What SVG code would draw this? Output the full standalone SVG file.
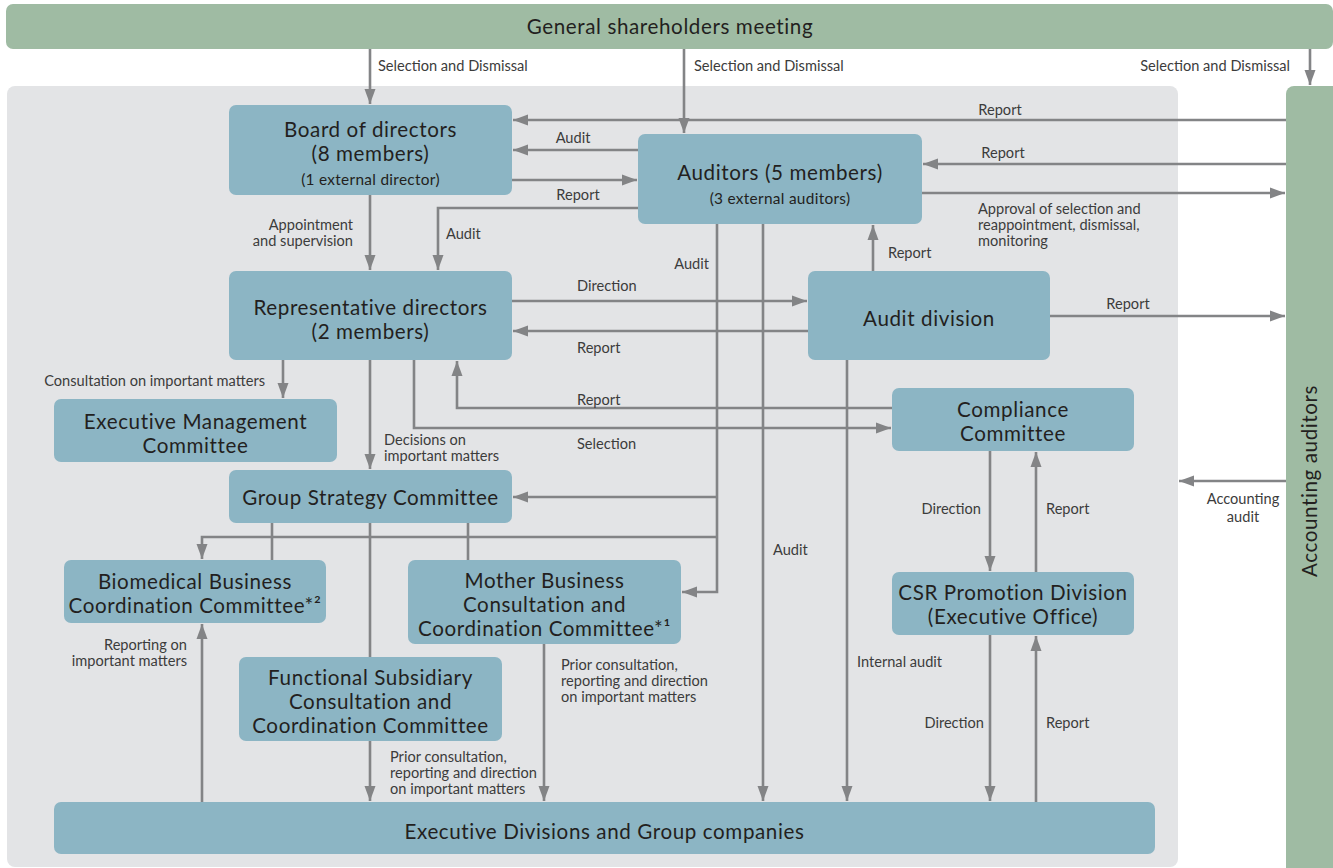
<svg xmlns="http://www.w3.org/2000/svg" width="1333" height="868" viewBox="0 0 1333 868">
<defs>
<marker id="ah" markerUnits="userSpaceOnUse" markerWidth="15" markerHeight="12" viewBox="0 0 15 12" refX="15" refY="6" orient="auto">
<path d="M0,0.5 L15,6 L0,11.5 z" fill="#838486"/>
</marker>
<style>
.node{fill:#8cb5c4}
.green{fill:#9fbba3}
.nt{font-family:Lato,"Noto Sans","Liberation Sans",sans-serif;font-size:20.6px;letter-spacing:0.6px;fill:#231f20;text-anchor:middle}
.ns{font-family:Lato,"Noto Sans","Liberation Sans",sans-serif;font-size:15.4px;letter-spacing:0.3px;fill:#231f20;text-anchor:middle}
.lb{font-family:Lato,"Noto Sans","Liberation Sans",sans-serif;font-size:14.6px;fill:#3c3c3c}
.e{text-anchor:end}
.m{text-anchor:middle}
.c{fill:none;stroke:#838486;stroke-width:2.6}
.a{marker-end:url(#ah)}
</style>
</defs>
<rect width="1333" height="868" fill="#ffffff"/>
<g id="panel"><rect x="7" y="86" width="1171" height="781" rx="8" fill="#e3e4e6"/></g>
<g id="shareholders"><rect class="green" x="6" y="4" width="1327" height="45" rx="7"/><text class="nt" x="670" y="34">General shareholders meeting</text></g>
<g id="accounting"><rect class="green" x="1286" y="86" width="60" height="800" rx="8"/><text class="nt" transform="translate(1317,481) rotate(-90)" x="0" y="0">Accounting auditors</text></g>
<g id="connectors">
<path class="c a" d="M370,49 V104"/>
<path class="c a" d="M684,49 V133"/>
<path class="c a" d="M1310,49 V85"/>
<path class="c a" d="M1286,120 H513"/>
<path class="c a" d="M1286,164 H923"/>
<path class="c a" d="M922,193 H1285"/>
<path class="c a" d="M638,150 H513"/>
<path class="c a" d="M512,180 H637"/>
<path class="c a" d="M638,208 H438 V270"/>
<path class="c a" d="M370,195 V270"/>
<path class="c a" d="M512,301 H807"/>
<path class="c a" d="M808,331 H513"/>
<path class="c a" d="M873,271 V225"/>
<path class="c a" d="M1050,316 H1285"/>
<path class="c a" d="M717,224 V592 H682"/>
<path class="c a" d="M717,497 H513"/>
<path class="c a" d="M717,537 H202 V559"/>
<path class="c" d="M272,523 V560"/>
<path class="c" d="M468,523 V560"/>
<path class="c a" d="M763,224 V801"/>
<path class="c a" d="M283,360 V398"/>
<path class="c a" d="M370,360 V469"/>
<path class="c a" d="M892,408 H457 V361"/>
<path class="c a" d="M414,360 V428 H891"/>
<path class="c a" d="M847,360 V801"/>
<path class="c a" d="M990,451 V571"/>
<path class="c a" d="M1036,572 V452"/>
<path class="c a" d="M990,635 V801"/>
<path class="c a" d="M1036,802 V636"/>
<path class="c a" d="M1286,481 H1179"/>
<path class="c" d="M370,523 V657"/>
<path class="c a" d="M202,802 V624"/>
<path class="c a" d="M370,741 V801"/>
<path class="c a" d="M544,644 V801"/>
</g>
<g id="labels">
<text class="lb" x="378" y="71">Selection and Dismissal</text>
<text class="lb" x="694" y="71">Selection and Dismissal</text>
<text class="lb e" x="1290" y="71">Selection and Dismissal</text>
<text class="lb m" x="1000" y="115">Report</text>
<text class="lb m" x="573" y="143">Audit</text>
<text class="lb m" x="1003" y="158">Report</text>
<text class="lb m" x="578" y="200">Report</text>
<text class="lb" x="978" y="214">Approval of selection and</text>
<text class="lb" x="978" y="230">reappointment, dismissal,</text>
<text class="lb" x="978" y="246">monitoring</text>
<text class="lb e" x="353" y="230">Appointment</text>
<text class="lb e" x="353" y="246">and supervision</text>
<text class="lb" x="446" y="239">Audit</text>
<text class="lb e" x="709" y="269">Audit</text>
<text class="lb" x="888" y="258">Report</text>
<text class="lb" x="577" y="291">Direction</text>
<text class="lb" x="577" y="353">Report</text>
<text class="lb m" x="1128" y="309">Report</text>
<text class="lb e" x="265" y="386">Consultation on important matters</text>
<text class="lb" x="577" y="405">Report</text>
<text class="lb" x="384" y="445">Decisions on</text>
<text class="lb" x="384" y="461">important matters</text>
<text class="lb" x="577" y="449">Selection</text>
<text class="lb e" x="981" y="514">Direction</text>
<text class="lb" x="1046" y="514">Report</text>
<text class="lb m" x="1243" y="504">Accounting</text>
<text class="lb m" x="1243" y="522">audit</text>
<text class="lb" x="773" y="555">Audit</text>
<text class="lb e" x="187" y="650">Reporting on</text>
<text class="lb e" x="187" y="666">important matters</text>
<text class="lb" x="561" y="670">Prior consultation,</text>
<text class="lb" x="561" y="686">reporting and direction</text>
<text class="lb" x="561" y="702">on important matters</text>
<text class="lb" x="857" y="667">Internal audit</text>
<text class="lb e" x="984" y="728">Direction</text>
<text class="lb" x="1046" y="728">Report</text>
<text class="lb" x="390" y="762">Prior consultation,</text>
<text class="lb" x="390" y="778">reporting and direction</text>
<text class="lb" x="390" y="794">on important matters</text>
</g>
<g id="board"><rect class="node" x="229" y="105" width="283" height="90" rx="7"/><text class="nt" x="370.5" y="137">Board of directors</text><text class="nt" x="370.5" y="161">(8 members)</text><text class="ns" x="370.5" y="185">(1 external director)</text></g>
<g id="auditors"><rect class="node" x="638" y="134" width="284" height="90" rx="7"/><text class="nt" x="780" y="180">Auditors (5 members)</text><text class="ns" x="780" y="204">(3 external auditors)</text></g>
<g id="representative"><rect class="node" x="229" y="271" width="283" height="89" rx="7"/><text class="nt" x="370.5" y="315">Representative directors</text><text class="nt" x="370.5" y="339">(2 members)</text></g>
<g id="auditdivision"><rect class="node" x="808" y="271" width="242" height="89" rx="7"/><text class="nt" x="929" y="326">Audit division</text></g>
<g id="executivemanagement"><rect class="node" x="54" y="399" width="283" height="63" rx="7"/><text class="nt" x="195.5" y="429">Executive Management</text><text class="nt" x="195.5" y="453">Committee</text></g>
<g id="compliance"><rect class="node" x="892" y="388" width="242" height="63" rx="7"/><text class="nt" x="1013" y="417">Compliance</text><text class="nt" x="1013" y="441">Committee</text></g>
<g id="groupstrategy"><rect class="node" x="229" y="470" width="283" height="53" rx="7"/><text class="nt" x="370.5" y="505">Group Strategy Committee</text></g>
<g id="biomedical"><rect class="node" x="64" y="560" width="262" height="63" rx="7"/><text class="nt" x="195" y="589">Biomedical Business</text><text class="nt" x="195" y="613">Coordination Committee*²</text></g>
<g id="mother"><rect class="node" x="408" y="560" width="273" height="84" rx="7"/><text class="nt" x="544.5" y="588">Mother Business</text><text class="nt" x="544.5" y="612">Consultation and</text><text class="nt" x="544.5" y="636">Coordination Committee*¹</text></g>
<g id="functional"><rect class="node" x="239" y="657" width="263" height="84" rx="7"/><text class="nt" x="370.5" y="685">Functional Subsidiary</text><text class="nt" x="370.5" y="709">Consultation and</text><text class="nt" x="370.5" y="733">Coordination Committee</text></g>
<g id="csr"><rect class="node" x="892" y="572" width="242" height="63" rx="7"/><text class="nt" x="1013" y="600">CSR Promotion Division</text><text class="nt" x="1013" y="624">(Executive Office)</text></g>
<g id="executivedivisions"><rect class="node" x="54" y="802" width="1101" height="52" rx="7"/><text class="nt" x="604.5" y="839">Executive Divisions and Group companies</text></g>
</svg>
